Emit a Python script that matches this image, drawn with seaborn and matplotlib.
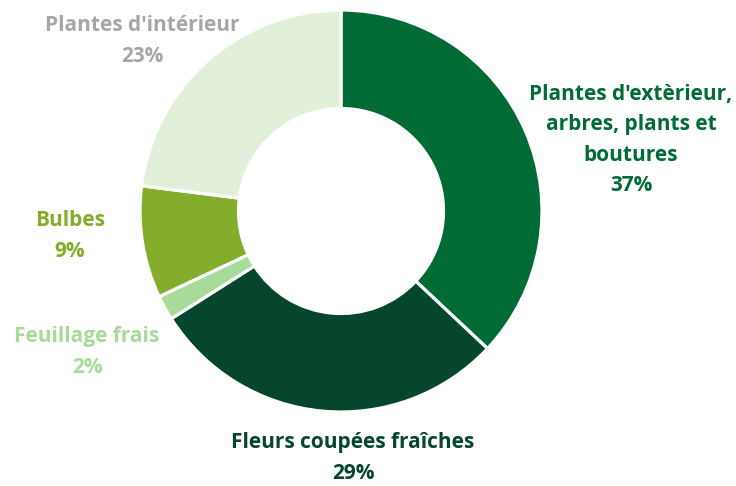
import matplotlib
matplotlib.use("Agg")
import matplotlib.pyplot as plt
import seaborn as sns

categories = ["Plantes d'extèrieur,\narbres, plants et\nboutures",
              "Fleurs coupées fraîches",
              "Feuillage frais",
              "Bulbes",
              "Plantes d'intérieur"]
shares = [37, 29, 2, 9, 23]
slice_colors = ["#006B35", "#05462D", "#A8DA9A", "#83AD2A", "#E2EFD9"]
label_colors = ["#006B35", "#05462D", "#A8DA9A", "#83AD2A", "#A6A6A6"]
# label centres in pixels (x, y from top)
label_pos = [(631, 140), (353, 458), (87, 352), (70, 236), (142, 41)]

sns.set_theme(style="white")
plt.rcParams['font.family'] = ['Open Sans', 'DejaVu Sans']

W, H = 736, 486
fig = plt.figure(figsize=(W / 100, H / 100), dpi=100)
cx, cy, r = 341, 211, 201
ax = fig.add_axes([(cx - r) / W, (H - cy - r) / H, 2 * r / W, 2 * r / H])

ax.pie(shares, colors=slice_colors, startangle=90, counterclock=False,
       radius=1, wedgeprops=dict(width=0.49, edgecolor="white", linewidth=2.3))
ax.set_xlim(-1, 1)
ax.set_ylim(-1, 1)
ax.set_aspect("equal")
ax.axis("off")

for name, val, col, (x, y) in zip(categories, shares, label_colors, label_pos):
    fig.text(x / W, 1 - y / H, f"{name}\n{val}%", color=col, ha="center", va="center",
             fontsize=15, fontweight="bold", linespacing=1.58)

fig.savefig("out.png", dpi=100, facecolor="white")
